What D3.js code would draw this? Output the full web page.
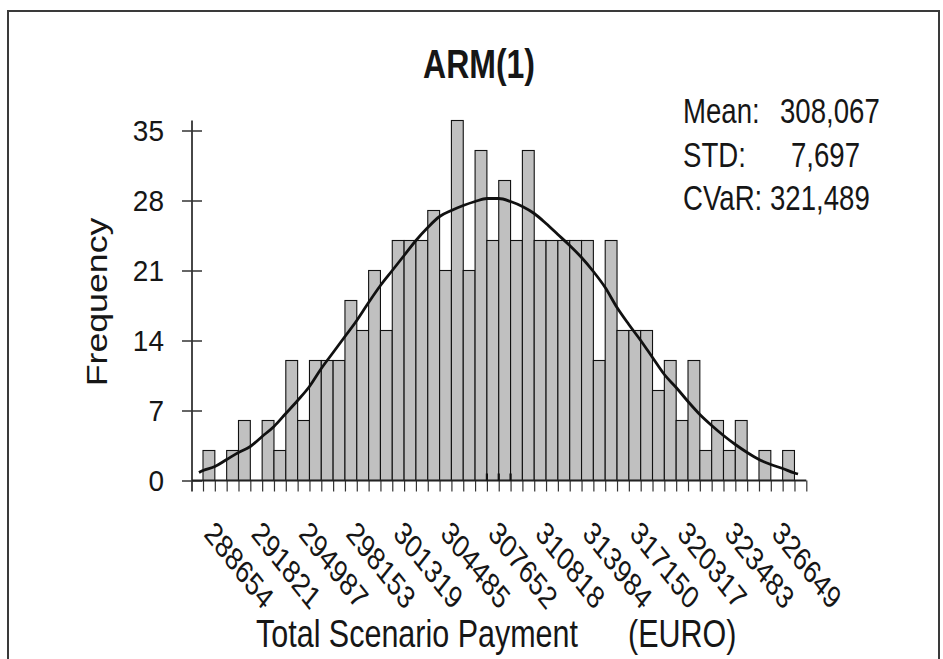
<!DOCTYPE html>
<html>
<head>
<meta charset="utf-8">
<script src="https://cdn.jsdelivr.net/npm/d3@7"></script>
<style>
  body { margin: 0; background: #fff; }
  text { font-family: "Liberation Sans", Arial, sans-serif; fill: #161616; }
</style>
</head>
<body>
<svg id="chart" width="943" height="659"></svg>
<script>
// histogram frequencies, one per bin (last bin is empty)
const freq = [3, 0, 3, 6, 0, 6, 3, 12, 6, 12, 12, 12, 18, 15, 21, 15, 24, 24, 24, 27,
  21, 36, 21, 33, 24, 30, 24, 33, 24, 24, 24, 24, 24, 12, 24, 15, 15, 15, 9, 12,
  6, 12, 3, 6, 3, 6, 0, 3, 0, 3, 0];

// x tick labels, one every 4 bins
const xLabels = ["288654", "291821", "294987", "298153", "301319", "304485", "307652",
  "310818", "313984", "317150", "320317", "323483", "326649"];

const yTicks = [0, 7, 14, 21, 28, 35];

// fitted curve (bin position, frequency)
const curveBin = [-0.34, 0, 1, 2, 3, 4, 5, 6, 7, 8, 9, 10, 11, 12, 13, 14, 15, 16, 17, 18,
  19, 20, 21, 22, 23, 24, 25, 26, 27, 28, 29, 30, 31, 32, 33, 34, 35, 36, 37, 38,
  39, 40, 41, 42, 43, 44, 45, 46, 47, 48, 49, 50, 50.3];
const curveFreq = [0.8, 1.0, 1.4, 2.1, 2.8, 3.4, 4.4, 5.4, 6.7, 8.0, 9.4, 11.2, 12.8, 14.4, 16.0, 17.8, 19.5, 21.0, 22.5, 24.0,
  25.3, 26.4, 27.0, 27.5, 27.9, 28.2, 28.2, 27.9, 27.4, 26.7, 25.7, 24.6, 23.5, 22.3, 20.9, 19.3, 17.3, 15.6, 14.0, 12.3,
  10.6, 9.3, 7.9, 6.6, 5.5, 4.5, 3.6, 2.8, 2.1, 1.6, 1.2, 0.75, 0.65];

// small marks on the axis near the centre (bin positions)
const centreMarks = [24, 25, 26];

const stats = [
  { name: "Mean:", value: "308,067", vx: 780 },
  { name: "STD:", value: "7,697", vx: 791 },
  { name: "CVaR:", value: "321,489", vx: 770 }
];

const svg = d3.select("#chart");

// frame
svg.append("rect")
  .attr("x", 8).attr("y", 11)
  .attr("width", 931).attr("height", 670)
  .attr("fill", "none")
  .attr("stroke", "#3a3a3a")
  .attr("stroke-width", 2);

let x = d3.scaleLinear().domain([0, freq.length]).range([203, 806.3]);
let y = d3.scaleLinear().domain([0, 35]).range([480.5, 130.5]);

// text that is stretched vertically like the source image
function stretchText(sel, px, py, str, size, k, rot) {
  return sel.append("text")
    .attr("transform", `translate(${px},${py}) scale(1,${k})` + (rot ? ` rotate(${rot})` : ""))
    .attr("font-size", size)
    .text(str);
}

// bars
svg.append("g")
  .selectAll("rect")
  .data(freq.map((f, i) => ({ f, i })).filter(d => d.f > 0))
  .join("rect")
  .attr("x", d => x(d.i))
  .attr("y", d => y(d.f))
  .attr("width", d => x(d.i + 1) - x(d.i))
  .attr("height", d => y(0) - y(d.f))
  .attr("fill", "#c0c0c0")
  .attr("stroke", "#111")
  .attr("stroke-width", 1.1);

// y axis
let yAxis = svg.append("g")
  .attr("transform", `translate(192,0)`)
  .call(d3.axisLeft(y).tickValues(yTicks).tickSize(10).tickSizeOuter(0).tickFormat(""));
yAxis.select(".domain").remove();
yAxis.selectAll(".tick line").attr("x1", 10).attr("stroke", "#333").attr("stroke-width", 1.5);
yAxis.append("line")
  .attr("x1", 0).attr("x2", 0)
  .attr("y1", y(36)).attr("y2", y(0) + 11)
  .attr("stroke", "#333").attr("stroke-width", 1.8);

yTicks.forEach(t => {
  stretchText(svg, 164, y(t) + 10.5, String(t), 28, 1.08)
    .attr("text-anchor", "end");
});

// x axis
let xAxis = svg.append("g")
  .attr("transform", `translate(0,${y(0)})`)
  .call(d3.axisBottom(x).tickValues(d3.range(freq.length + 1)).tickSize(11).tickSizeOuter(0).tickFormat(""));
xAxis.select(".domain").remove();
xAxis.selectAll(".tick line").attr("stroke", "#333").attr("stroke-width", 1.2);
xAxis.append("line")
  .attr("x1", 192).attr("x2", x(freq.length))
  .attr("y1", 0).attr("y2", 0)
  .attr("stroke", "#222").attr("stroke-width", 1.8);

svg.append("g")
  .selectAll("line")
  .data(centreMarks)
  .join("line")
  .attr("x1", d => x(d)).attr("x2", d => x(d))
  .attr("y1", y(0)).attr("y2", y(0) - 7)
  .attr("stroke", "#111").attr("stroke-width", 2.2);

xLabels.forEach((lab, i) => {
  stretchText(svg, x(i * 4), 535, lab, 25.4, 1.27, 45);
});

// fitted curve
let line = d3.line()
  .x(d => x(d[0]))
  .y(d => y(d[1]))
  .curve(d3.curveMonotoneX);
svg.append("path")
  .datum(curveBin.map((b, i) => [b, curveFreq[i]]))
  .attr("d", line)
  .attr("fill", "none")
  .attr("stroke", "#111")
  .attr("stroke-width", 2.8);

// titles
stretchText(svg, 479, 78, "ARM(1)", 32, 1.27)
  .attr("text-anchor", "middle")
  .attr("font-weight", "bold");

stretchText(svg, 107, 302, "Frequency", 30, 1.19, -90)
  .attr("text-anchor", "middle");

let xt = stretchText(svg, 256, 647, "", 30.5, 1.3);
xt.append("tspan").text("Total Scenario Payment");
xt.append("tspan").attr("x", 372).text("(EURO)");

stats.forEach((s, i) => {
  let by = 123 + i * 43.5;
  stretchText(svg, 683, by, s.name, 27.6, 1.3);
  stretchText(svg, s.vx, by, s.value, 27.6, 1.3);
});
</script>
</body>
</html>
